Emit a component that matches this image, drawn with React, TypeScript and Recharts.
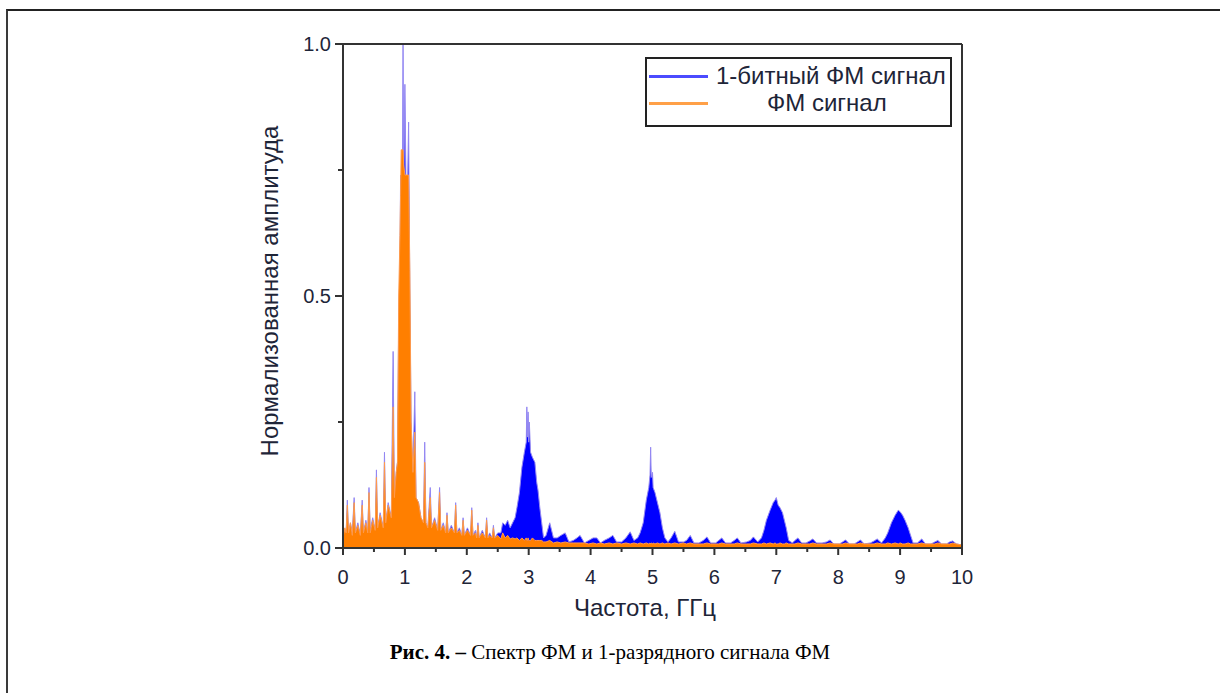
import { ComposedChart, Area, XAxis, YAxis, ReferenceLine } from "recharts";

// frequency grid, GHz
const freq = [
  0.0, 0.03, 0.05, 0.07, 0.09, 0.12, 0.15, 0.18, 0.2, 0.24, 0.28, 0.31, 0.33, 0.37, 0.4, 0.42, 0.44, 0.48, 0.52, 0.54,
  0.56, 0.6, 0.65, 0.67, 0.69, 0.73, 0.78, 0.81, 0.83, 0.86, 0.88, 0.9, 0.92, 0.93, 0.94, 0.96, 0.97, 0.98, 1.0, 1.02,
  1.04, 1.06, 1.08, 1.1, 1.13, 1.16, 1.18, 1.22, 1.26, 1.3, 1.32, 1.34, 1.37, 1.41, 1.43, 1.48, 1.53, 1.56, 1.58, 1.62,
  1.66, 1.68, 1.7, 1.75, 1.8, 1.82, 1.84, 1.88, 1.92, 1.94, 1.96, 2.01, 2.06, 2.08, 2.1, 2.14, 2.16, 2.18, 2.2, 2.25,
  2.3, 2.32, 2.34, 2.37, 2.41, 2.43, 2.45, 2.5, 2.55, 2.58, 2.62, 2.66, 2.7, 2.74, 2.78, 2.81, 2.85, 2.89, 2.93, 2.96,
  2.97, 2.98, 2.99, 3.0, 3.01, 3.03, 3.06, 3.1, 3.13, 3.15, 3.18, 3.21, 3.24, 3.28, 3.34, 3.4, 3.46, 3.52, 3.59, 3.65,
  3.72, 3.78, 3.83, 3.9, 3.97, 4.04, 4.1, 4.16, 4.22, 4.3, 4.36, 4.42, 4.5, 4.57, 4.64, 4.7, 4.76, 4.8, 4.85, 4.9,
  4.94, 4.96, 4.97, 4.98, 5.0, 5.01, 5.04, 5.08, 5.12, 5.16, 5.2, 5.25, 5.3, 5.36, 5.42, 5.5, 5.55, 5.61, 5.67, 5.75,
  5.82, 5.88, 5.94, 6.02, 6.07, 6.12, 6.18, 6.26, 6.32, 6.37, 6.43, 6.52, 6.58, 6.63, 6.7, 6.76, 6.8, 6.84, 6.9, 6.95,
  6.98, 7.0, 7.03, 7.06, 7.1, 7.13, 7.16, 7.2, 7.26, 7.3, 7.35, 7.41, 7.48, 7.54, 7.59, 7.65, 7.74, 7.81, 7.87, 7.93,
  8.02, 8.07, 8.12, 8.18, 8.26, 8.31, 8.36, 8.42, 8.52, 8.58, 8.63, 8.7, 8.76, 8.8, 8.86, 8.92, 8.97, 9.0, 9.04, 9.08,
  9.13, 9.17, 9.21, 9.28, 9.35, 9.41, 9.5, 9.56, 9.61, 9.67, 9.75, 9.8, 9.85, 9.91, 10.0,
];

// 1-битный ФМ сигнал
const bitFm = [
  0.01, 0.03, 0.03, 0.095, 0.03, 0.05, 0.03, 0.1, 0.03, 0.05, 0.025, 0.095, 0.03, 0.055, 0.03, 0.12, 0.035, 0.06, 0.035, 0.155,
  0.04, 0.07, 0.04, 0.19, 0.05, 0.09, 0.06, 0.39, 0.1, 0.15, 0.17, 0.45, 0.55, 0.74, 0.6, 0.7, 1.0, 0.7, 0.92, 0.7,
  0.7, 0.845, 0.5, 0.25, 0.15, 0.31, 0.1, 0.09, 0.06, 0.05, 0.21, 0.05, 0.04, 0.12, 0.04, 0.06, 0.035, 0.12, 0.035, 0.05,
  0.03, 0.07, 0.03, 0.045, 0.03, 0.09, 0.03, 0.04, 0.025, 0.06, 0.025, 0.04, 0.025, 0.08, 0.025, 0.035, 0.02, 0.05, 0.02, 0.035,
  0.02, 0.06, 0.02, 0.03, 0.02, 0.045, 0.02, 0.03, 0.03, 0.05, 0.045, 0.055, 0.04, 0.05, 0.06, 0.08, 0.11, 0.16, 0.19, 0.21,
  0.28, 0.22, 0.27, 0.21, 0.25, 0.19, 0.18, 0.17, 0.13, 0.115, 0.08, 0.05, 0.02, 0.025, 0.05, 0.02, 0.02, 0.025, 0.03, 0.012,
  0.015, 0.02, 0.025, 0.01, 0.015, 0.02, 0.02, 0.01, 0.015, 0.02, 0.025, 0.012, 0.012, 0.02, 0.032, 0.015, 0.02, 0.03, 0.05, 0.095,
  0.12, 0.145, 0.2, 0.14, 0.15, 0.12, 0.11, 0.09, 0.07, 0.04, 0.02, 0.012, 0.02, 0.033, 0.012, 0.012, 0.015, 0.025, 0.01, 0.01,
  0.015, 0.022, 0.01, 0.01, 0.015, 0.02, 0.01, 0.01, 0.015, 0.02, 0.01, 0.012, 0.015, 0.022, 0.012, 0.02, 0.035, 0.055, 0.075, 0.09,
  0.095, 0.1, 0.085, 0.08, 0.07, 0.055, 0.04, 0.015, 0.01, 0.015, 0.02, 0.01, 0.01, 0.014, 0.018, 0.01, 0.01, 0.012, 0.016, 0.008,
  0.008, 0.012, 0.016, 0.008, 0.008, 0.012, 0.016, 0.008, 0.01, 0.014, 0.018, 0.01, 0.02, 0.03, 0.05, 0.065, 0.075, 0.072, 0.065, 0.055,
  0.04, 0.025, 0.01, 0.01, 0.018, 0.008, 0.008, 0.012, 0.015, 0.008, 0.008, 0.012, 0.014, 0.008, 0.006,
];

// ФМ сигнал
const fm = [
  0.02, 0.04, 0.03, 0.085, 0.03, 0.05, 0.025, 0.09, 0.03, 0.045, 0.025, 0.085, 0.03, 0.05, 0.03, 0.11, 0.03, 0.055, 0.035, 0.14,
  0.04, 0.065, 0.04, 0.17, 0.05, 0.085, 0.06, 0.28, 0.1, 0.15, 0.17, 0.5, 0.62, 0.7, 0.79, 0.79, 0.79, 0.76, 0.74, 0.74,
  0.74, 0.74, 0.55, 0.25, 0.15, 0.23, 0.1, 0.09, 0.06, 0.05, 0.17, 0.05, 0.04, 0.1, 0.04, 0.055, 0.035, 0.11, 0.035, 0.045,
  0.03, 0.065, 0.03, 0.04, 0.03, 0.085, 0.03, 0.035, 0.025, 0.055, 0.025, 0.035, 0.025, 0.075, 0.025, 0.03, 0.02, 0.045, 0.02, 0.03,
  0.02, 0.055, 0.02, 0.025, 0.02, 0.04, 0.02, 0.025, 0.018, 0.03, 0.02, 0.025, 0.018, 0.02, 0.018, 0.02, 0.015, 0.02, 0.015, 0.02,
  0.015, 0.015, 0.02, 0.015, 0.015, 0.015, 0.02, 0.015, 0.015, 0.015, 0.015, 0.015, 0.012, 0.012, 0.015, 0.01, 0.012, 0.01, 0.012, 0.01,
  0.01, 0.01, 0.01, 0.01, 0.008, 0.01, 0.008, 0.01, 0.008, 0.01, 0.008, 0.01, 0.008, 0.01, 0.008, 0.01, 0.008, 0.01, 0.008, 0.01,
  0.008, 0.01, 0.008, 0.01, 0.008, 0.01, 0.008, 0.01, 0.008, 0.01, 0.008, 0.01, 0.008, 0.01, 0.008, 0.01, 0.008, 0.01, 0.008, 0.008,
  0.008, 0.01, 0.008, 0.008, 0.008, 0.01, 0.008, 0.008, 0.008, 0.01, 0.008, 0.008, 0.008, 0.01, 0.008, 0.008, 0.01, 0.008, 0.01, 0.008,
  0.01, 0.008, 0.008, 0.01, 0.008, 0.008, 0.01, 0.008, 0.008, 0.008, 0.01, 0.008, 0.008, 0.008, 0.01, 0.008, 0.008, 0.008, 0.01, 0.008,
  0.008, 0.008, 0.01, 0.008, 0.008, 0.008, 0.01, 0.008, 0.008, 0.008, 0.01, 0.008, 0.008, 0.01, 0.008, 0.01, 0.008, 0.01, 0.008, 0.008,
  0.01, 0.008, 0.008, 0.008, 0.01, 0.008, 0.008, 0.008, 0.01, 0.008, 0.008, 0.008, 0.01, 0.008, 0.006,
];

const xTicks = [0, 0.5, 1, 1.5, 2, 2.5, 3, 3.5, 4, 4.5, 5, 5.5, 6, 6.5, 7, 7.5, 8, 8.5, 9, 9.5, 10];
const yTicks = [0, 0.25, 0.5, 0.75, 1];

const data = freq.map((f, i) => ({ f, bit: bitFm[i], fm: fm[i] }));

const sans = "Arial, 'Liberation Sans', sans-serif";
const axisColor = "#333";
const textColor = "#1e2538";

function XTick(props: any) {
  const { x, y, payload } = props;
  const major = Number.isInteger(payload.value);
  return (
    <g>
      <line x1={x} x2={x} y1={y} y2={y + (major ? 7 : 4)} stroke={axisColor} strokeWidth={2} />
      {major && (
        <text x={x} y={y + 36} textAnchor="middle" fontSize={20} fontFamily={sans} fill={textColor}>
          {payload.value}
        </text>
      )}
    </g>
  );
}

function YTick(props: any) {
  const { x, y, payload } = props;
  const major = payload.value === 0 || payload.value === 0.5 || payload.value === 1;
  return (
    <g>
      <line x1={x} x2={x - (major ? 8 : 5)} y1={y} y2={y} stroke={axisColor} strokeWidth={2} />
      {major && (
        <text x={x - 12} y={y + 7} textAnchor="end" fontSize={20} fontFamily={sans} fill={textColor}>
          {payload.value.toFixed(1)}
        </text>
      )}
    </g>
  );
}

export default function App() {
  return (
    <div style={{ position: "absolute", left: 0, top: 0, width: 1220, height: 693, background: "#fff", overflow: "hidden" }}>
      <div
        style={{
          position: "absolute",
          left: 6,
          top: 9,
          width: 1300,
          height: 800,
          borderLeft: "2px solid #3a3a3a",
          borderTop: "2px solid #222",
        }}
      />
      <div style={{ position: "absolute", left: 0, top: 0 }}>
        <ComposedChart width={1220} height={693} data={data} margin={{ top: 44, right: 258, bottom: 105, left: 283 }}>
          <XAxis
            dataKey="f"
            type="number"
            domain={[0, 10]}
            ticks={xTicks}
            interval={0}
            height={40}
            tickSize={0}
            tickMargin={0}
            tickLine={false}
            tick={<XTick />}
            axisLine={{ stroke: axisColor, strokeWidth: 2 }}
          />
          <YAxis
            type="number"
            domain={[0, 1]}
            ticks={yTicks}
            interval={0}
            width={60}
            tickSize={0}
            tickMargin={0}
            tickLine={false}
            tick={<YTick />}
            axisLine={{ stroke: axisColor, strokeWidth: 2 }}
          />
          <Area
            type="linear"
            dataKey="bit"
            stroke="#9488f2"
            strokeWidth={1}
            fill="#0000ff"
            fillOpacity={1}
            dot={false}
            activeDot={false}
            isAnimationActive={false}
          />
          <Area
            type="linear"
            dataKey="fm"
            stroke="#ff9a4a"
            strokeWidth={1}
            fill="#ff7f00"
            fillOpacity={1}
            dot={false}
            activeDot={false}
            isAnimationActive={false}
          />
          <ReferenceLine y={1} stroke={axisColor} strokeWidth={2} ifOverflow="visible" />
          <ReferenceLine x={10} stroke={axisColor} strokeWidth={2} ifOverflow="visible" />
        </ComposedChart>
      </div>

      {/* legend */}
      <div
        style={{
          position: "absolute",
          left: 645,
          top: 57,
          width: 303,
          height: 66,
          border: "2px solid #222",
          fontFamily: sans,
          fontSize: 24,
          color: textColor,
        }}
      >
        <div style={{ position: "absolute", left: 2, top: 16, width: 59, height: 3, background: "#4b4bff" }} />
        <div style={{ position: "absolute", left: 69, top: 3, whiteSpace: "nowrap" }}>1-битный ФМ сигнал</div>
        <div style={{ position: "absolute", left: 2, top: 43, width: 59, height: 3, background: "#ffa047" }} />
        <div style={{ position: "absolute", left: 120, top: 30, whiteSpace: "nowrap" }}>ФМ сигнал</div>
      </div>

      {/* axis titles */}
      <div
        style={{
          position: "absolute",
          left: 540,
          top: 594,
          width: 210,
          textAlign: "center",
          fontFamily: sans,
          fontSize: 24,
          color: textColor,
        }}
      >
        Частота, ГГц
      </div>
      <div
        style={{
          position: "absolute",
          left: 270,
          top: 291,
          width: 400,
          marginLeft: -200,
          marginTop: -14,
          textAlign: "center",
          transform: "rotate(-90deg)",
          fontFamily: sans,
          fontSize: 24,
          color: textColor,
          whiteSpace: "nowrap",
        }}
      >
        Нормализованная амплитуда
      </div>

      {/* caption */}
      <div
        style={{
          position: "absolute",
          left: 310,
          top: 640,
          width: 600,
          textAlign: "center",
          fontFamily: "'Times New Roman', 'Liberation Serif', serif",
          fontSize: 21,
          color: "#000",
        }}
      >
        <b>Рис. 4. –</b> Спектр ФМ и 1-разрядного сигнала ФМ
      </div>
    </div>
  );
}
